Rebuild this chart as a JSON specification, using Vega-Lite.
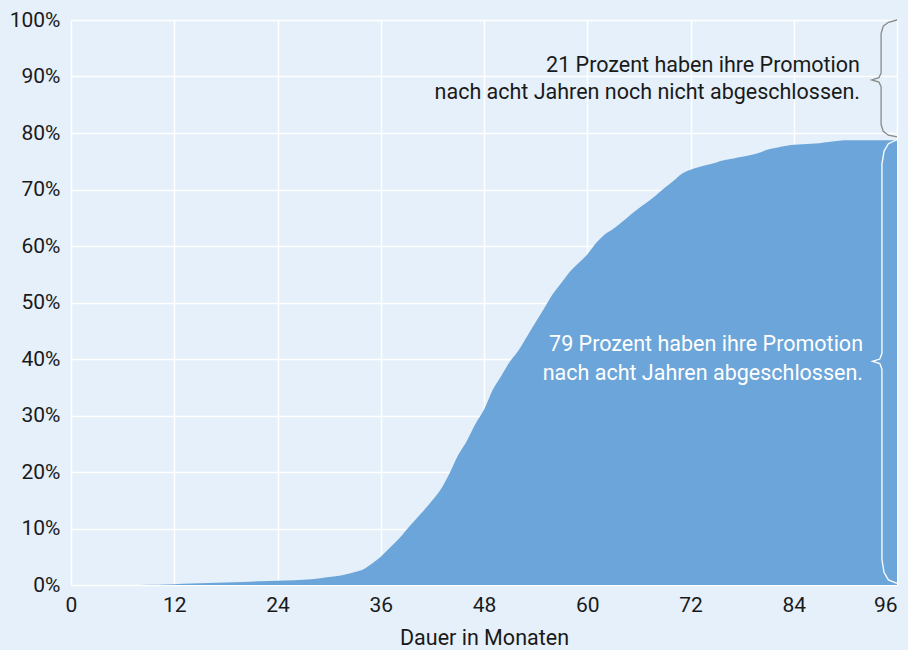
{
  "$schema": "https://vega.github.io/schema/vega-lite/v6.json",
  "width": 826,
  "height": 565,
  "autosize": {"type": "none"},
  "padding": {"left": 71, "top": 20, "right": 11, "bottom": 65},
  "background": "#e5f0fa",
  "config": {
    "view": {"stroke": null},
    "font": "Roboto",
    "axis": {"labelFont": "Roboto", "titleFont": "Roboto", "labelColor": "#1a1a1a", "titleColor": "#1a1a1a", "labelFontSize": 21, "titleFontSize": 21.5, "titleFontWeight": "normal", "domain": false, "ticks": false, "grid": true, "gridColor": "#ffffff", "gridWidth": 1.5, "gridOpacity": 1}
  },
  "resolve": {"scale": {"color": "independent"}},
  "datasets": {
    "curve": [
      {"m": 0, "p": 0}, {"m": 6, "p": 0}, {"m": 8, "p": 0.02}, {"m": 10, "p": 0.05}, {"m": 12, "p": 0.15},
      {"m": 14, "p": 0.25}, {"m": 16, "p": 0.35}, {"m": 18, "p": 0.45}, {"m": 20, "p": 0.55}, {"m": 22, "p": 0.65},
      {"m": 24, "p": 0.75}, {"m": 26, "p": 0.85}, {"m": 28, "p": 1.0}, {"m": 29, "p": 1.2}, {"m": 30, "p": 1.4},
      {"m": 31, "p": 1.6}, {"m": 32, "p": 1.9}, {"m": 33, "p": 2.3}, {"m": 34, "p": 2.8}, {"m": 35, "p": 3.8},
      {"m": 36, "p": 5.0}, {"m": 37, "p": 6.5}, {"m": 38, "p": 8.0}, {"m": 39, "p": 9.8}, {"m": 40, "p": 11.5},
      {"m": 41, "p": 13.2}, {"m": 42, "p": 15.0}, {"m": 43, "p": 17.0}, {"m": 44, "p": 19.8}, {"m": 45, "p": 23.0},
      {"m": 46, "p": 25.5}, {"m": 47, "p": 28.5}, {"m": 48, "p": 31.0}, {"m": 49, "p": 34.5}, {"m": 50, "p": 37.0},
      {"m": 51, "p": 39.5}, {"m": 52, "p": 41.5}, {"m": 53, "p": 44.0}, {"m": 54, "p": 46.5}, {"m": 55, "p": 49.0},
      {"m": 56, "p": 51.5}, {"m": 57, "p": 53.5}, {"m": 58, "p": 55.5}, {"m": 59, "p": 57.0}, {"m": 60, "p": 58.5},
      {"m": 61, "p": 60.5}, {"m": 62, "p": 62.0}, {"m": 63, "p": 63.0}, {"m": 64, "p": 64.2}, {"m": 65, "p": 65.5},
      {"m": 66, "p": 66.7}, {"m": 67, "p": 67.8}, {"m": 68, "p": 69.0}, {"m": 69, "p": 70.3}, {"m": 70, "p": 71.5},
      {"m": 71, "p": 72.8}, {"m": 72, "p": 73.5}, {"m": 73, "p": 74.0}, {"m": 74, "p": 74.4}, {"m": 75, "p": 74.8},
      {"m": 76, "p": 75.2}, {"m": 77, "p": 75.5}, {"m": 78, "p": 75.8}, {"m": 79, "p": 76.1}, {"m": 80, "p": 76.5},
      {"m": 81, "p": 77.1}, {"m": 82, "p": 77.4}, {"m": 83, "p": 77.7}, {"m": 84, "p": 77.9}, {"m": 85, "p": 78.0},
      {"m": 86, "p": 78.1}, {"m": 87, "p": 78.2}, {"m": 88, "p": 78.4}, {"m": 89, "p": 78.6}, {"m": 90, "p": 78.7},
      {"m": 96, "p": 78.7}
    ],
    "braces": [
      {"b": "upper", "i": 0, "m": 96.0, "p": 100.0}, {"b": "upper", "i": 1, "m": 95.0, "p": 99.6},
      {"b": "upper", "i": 2, "m": 94.4, "p": 98.9}, {"b": "upper", "i": 3, "m": 94.15, "p": 97.6},
      {"b": "upper", "i": 4, "m": 94.15, "p": 90.6}, {"b": "upper", "i": 5, "m": 93.9, "p": 89.8},
      {"b": "upper", "i": 6, "m": 93.06, "p": 89.4}, {"b": "upper", "i": 7, "m": 93.9, "p": 89.0},
      {"b": "upper", "i": 8, "m": 94.15, "p": 88.2}, {"b": "upper", "i": 9, "m": 94.15, "p": 81.5},
      {"b": "upper", "i": 10, "m": 94.4, "p": 80.3}, {"b": "upper", "i": 11, "m": 95.0, "p": 79.6},
      {"b": "upper", "i": 12, "m": 96.0, "p": 79.3},
      {"b": "lower", "i": 0, "m": 96.0, "p": 78.8}, {"b": "lower", "i": 1, "m": 95.0, "p": 78.1},
      {"b": "lower", "i": 2, "m": 94.5, "p": 76.8}, {"b": "lower", "i": 3, "m": 94.25, "p": 74.5},
      {"b": "lower", "i": 4, "m": 94.25, "p": 41.0}, {"b": "lower", "i": 5, "m": 94.0, "p": 40.0},
      {"b": "lower", "i": 6, "m": 93.15, "p": 39.6}, {"b": "lower", "i": 7, "m": 94.0, "p": 39.2},
      {"b": "lower", "i": 8, "m": 94.25, "p": 38.2}, {"b": "lower", "i": 9, "m": 94.25, "p": 4.5},
      {"b": "lower", "i": 10, "m": 94.5, "p": 2.2}, {"b": "lower", "i": 11, "m": 95.0, "p": 0.9},
      {"b": "lower", "i": 12, "m": 96.0, "p": 0.3}
    ],
    "labels": [
      {"t": "21 Prozent haben ihre Promotion", "m": 91.7, "p": 91.9, "c": "dark"},
      {"t": "nach acht Jahren noch nicht abgeschlossen.", "m": 91.7, "p": 87.1, "c": "dark"},
      {"t": "79 Prozent haben ihre Promotion", "m": 92.05, "p": 42.4, "c": "light"},
      {"t": "nach acht Jahren abgeschlossen.", "m": 92.05, "p": 37.4, "c": "light"}
    ]
  },
  "layer": [
    {
      "data": {"name": "curve"},
      "mark": {"type": "area", "color": "#6ca5d9", "interpolate": "monotone"},
      "encoding": {
        "x": {"field": "m", "type": "quantitative", "scale": {"domain": [0, 96], "nice": false}, "axis": {"values": [0, 12, 24, 36, 48, 60, 72, 84, 96], "title": "Dauer in Monaten", "labelFlush": false, "labelAlign": {"expr": "datum.value == 96 ? 'right' : 'center'"}, "labelPadding": 9, "titlePadding": 12}},
        "y": {"field": "p", "type": "quantitative", "scale": {"domain": [0, 100], "nice": false}, "axis": {"values": [0, 10, 20, 30, 40, 50, 60, 70, 80, 90, 100], "labelExpr": "datum.value + '%'", "title": null, "labelPadding": 11}}
      }
    },
    {
      "data": {"name": "braces"},
      "mark": {"type": "line", "interpolate": "linear", "strokeWidth": 1.3},
      "encoding": {
        "x": {"field": "m", "type": "quantitative"},
        "y": {"field": "p", "type": "quantitative"},
        "detail": {"field": "b"},
        "order": {"field": "i", "type": "quantitative"},
        "color": {"field": "b", "type": "nominal", "scale": {"domain": ["upper", "lower"], "range": ["#8a8a8a", "#ffffff"]}, "legend": null}
      }
    },
    {
      "data": {"name": "labels"},
      "mark": {"type": "text", "align": "right", "baseline": "middle", "fontSize": 21.5, "font": "Roboto"},
      "encoding": {
        "x": {"field": "m", "type": "quantitative"},
        "y": {"field": "p", "type": "quantitative"},
        "text": {"field": "t"},
        "color": {"field": "c", "type": "nominal", "scale": {"domain": ["dark", "light"], "range": ["#1a1a1a", "#ffffff"]}, "legend": null}
      }
    }
  ]
}
